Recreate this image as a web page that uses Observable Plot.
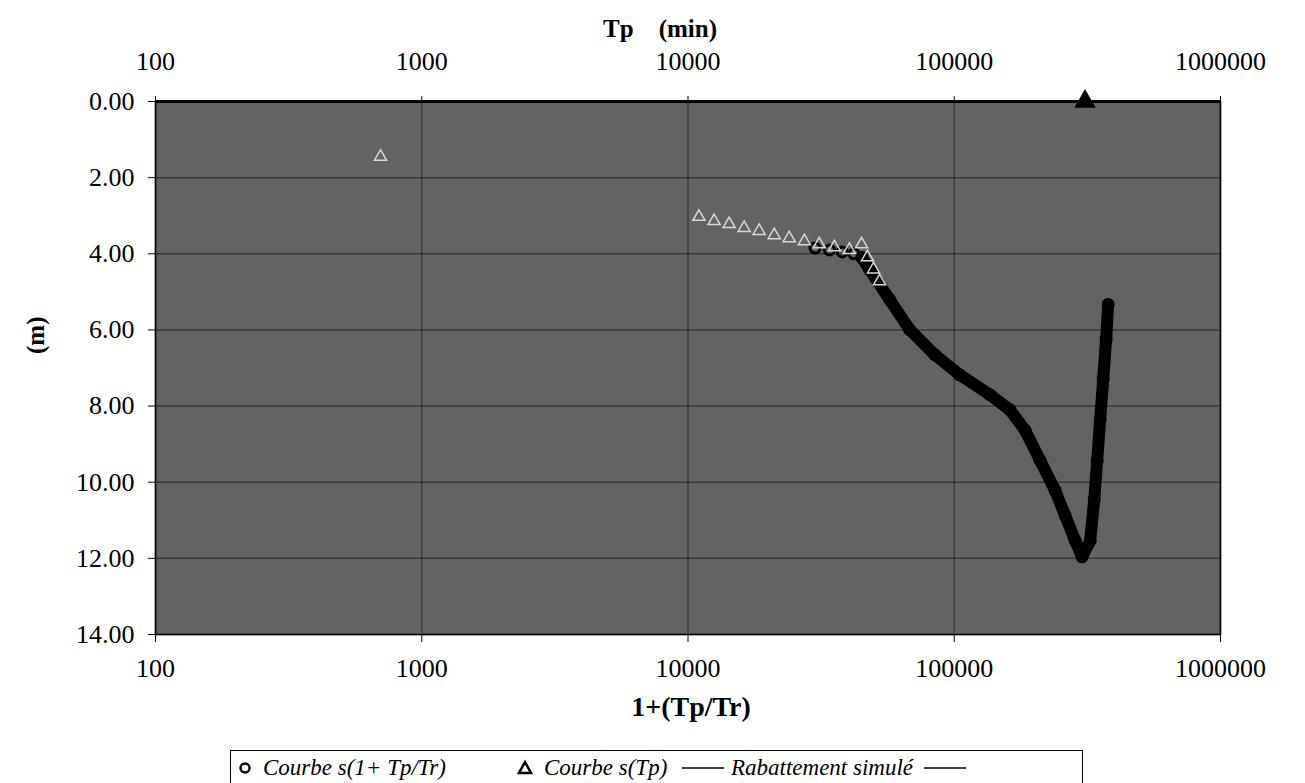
<!DOCTYPE html>
<html>
<head>
<meta charset="utf-8">
<script src="https://cdn.jsdelivr.net/npm/d3@7"></script>
<script src="https://cdn.jsdelivr.net/npm/@observablehq/plot@0.6"></script>
<style>
  html, body { margin: 0; padding: 0; background: #fff; }
  #wrap { position: relative; width: 1305px; height: 783px; overflow: hidden; }
  #legend { position: absolute; left: 230px; top: 750px; width: 853px; height: 40px;
    border: 1.5px solid #000; box-sizing: border-box; background: #fff;
    font-family: "Liberation Serif", serif; font-style: italic; font-size: 23px; }
  #legend .it { position: absolute; top: 4px; white-space: nowrap; }
  #legend svg { position: absolute; top: 8px; }
</style>
</head>
<body>
<div id="wrap">
  <div id="chart"></div>
  <div id="legend">
    <svg style="left:6px" width="16" height="18"><circle cx="8" cy="9" r="4.5" fill="none" stroke="#000" stroke-width="2.5"/></svg>
    <span class="it" style="left:32px">Courbe s(1+ Tp/Tr)</span>
    <svg style="left:285px" width="18" height="18"><path d="M9,3 L15,14 L3,14 Z" fill="none" stroke="#000" stroke-width="2.5"/></svg>
    <span class="it" style="left:313px">Courbe s(Tp)</span>
    <svg style="left:450px;top:9px" width="44" height="16"><line x1="1" y1="8" x2="43" y2="8" stroke="#000" stroke-width="1.5"/></svg>
    <span class="it" style="left:500px">Rabattement simulé</span>
    <svg style="left:692px;top:9px" width="44" height="16"><line x1="1" y1="8" x2="43" y2="8" stroke="#000" stroke-width="1.5"/></svg>
  </div>
</div>
<script>
// Axis ticks
const xTicks = [100, 1000, 10000, 100000, 1000000];
const yTicks = [0, 2, 4, 6, 8, 10, 12, 14];

// Courbe s(Tp) (triangles)
const triX = [700, 10990, 12530, 14270, 16250, 18500, 21080, 23990, 27350, 31120, 35480, 40360, 44870, 47200, 49750, 52400];
const triY = [1.45, 3.03, 3.14, 3.22, 3.32, 3.40, 3.51, 3.59, 3.67, 3.75, 3.83, 3.90, 3.75, 4.09, 4.41, 4.72];
// Marker at the surface
const topX = [310000];
const topY = [0];

// Courbe s(1+Tp/Tr) (circles)
const circX = [30000, 34000, 38000, 42000, 45000, 48050, 57150, 67950, 84440, 104900, 136100, 161800, 184300, 209900, 239000, 260700, 284400, 302000, 323900, 335400, 344200, 353200, 362500, 371900, 378600];
const circY = [3.85, 3.90, 3.95, 4.00, 4.10, 4.41, 5.20, 5.99, 6.65, 7.18, 7.70, 8.10, 8.63, 9.42, 10.21, 10.87, 11.53, 11.96, 11.54, 10.47, 9.44, 8.36, 7.30, 6.25, 5.33];

// Rabattement simulé (line)
const simX = [45000, 48050, 57150, 67950, 84440, 104900, 136100, 161800, 184300, 209900, 239000, 260700, 284400, 302000, 323900, 335400, 344200, 353200, 362500, 371900, 378600];
const simY = [4.10, 4.41, 5.20, 5.99, 6.65, 7.18, 7.70, 8.10, 8.63, 9.42, 10.21, 10.87, 11.53, 11.96, 11.54, 10.47, 9.44, 8.36, 7.30, 6.25, 5.33];

const tri = triX.map((x, i) => ({x, y: triY[i]}));
const top0 = topX.map((x, i) => ({x, y: topY[i]}));
const circ = circX.map((x, i) => ({x, y: circY[i]}));
const sim = simX.map((x, i) => ({x, y: simY[i]}));

const tickFont = {fontSize: 26, fontFamily: "Liberation Serif, serif"};

const chart = Plot.plot({
  width: 1305,
  height: 750,
  marginTop: 101,
  marginBottom: 116,
  marginLeft: 155,
  marginRight: 85,
  style: {fontFamily: "Liberation Serif, serif", background: "transparent", color: "#000"},
  x: {type: "log", domain: [100, 1000000]},
  y: {domain: [0, 14], reverse: true},
  marks: [
    Plot.frame({fill: "#636363"}),
    Plot.gridY(yTicks, {stroke: "#1a1a1a", strokeOpacity: 0.6, strokeWidth: 1.5}),
    Plot.gridX(xTicks, {stroke: "#1a1a1a", strokeOpacity: 0.5, strokeWidth: 1.5}),
    Plot.line(sim, {x: "x", y: "y", stroke: "#000", strokeWidth: 12, strokeLinejoin: "round", strokeLinecap: "round"}),
    Plot.dot(circ, {x: "x", y: "y", symbol: "circle", r: 5, stroke: "#000", strokeWidth: 3, fill: "none"}),
    Plot.dot(tri, {x: "x", y: "y", symbol: "triangle", r: 4.5, stroke: "#d8d8d8", strokeWidth: 1.5, fill: "none"}),
    Plot.dot(top0, {x: "x", y: "y", symbol: "triangle", r: 7, stroke: "#000", fill: "#000"}),
    Plot.frame({stroke: "#000", strokeWidth: 1.5}),
    Plot.ruleY([0], {stroke: "#000", strokeWidth: 3}),
    Plot.axisX(xTicks, {anchor: "bottom", tickSize: 8, tickPadding: 16, tickFormat: d => String(d), label: null, ...tickFont, letterSpacing: 1}),
    Plot.axisX(xTicks, {anchor: "top", tickSize: 6, tickPadding: 26, tickFormat: d => String(d), label: null, ...tickFont, letterSpacing: 1}),
    Plot.axisY(yTicks, {anchor: "left", tickSize: 7, tickPadding: 14, tickFormat: d3.format(".2f"), label: null, ...tickFont}),
    Plot.text(["Tp\u00a0\u00a0\u00a0\u00a0(min)"], {frameAnchor: "top", dx: -28, dy: -82, fontSize: 25, fontWeight: "bold", fontFamily: "Liberation Serif, serif"}),
    Plot.text(["1+(Tp/Tr)"], {frameAnchor: "bottom", dx: 3, dy: 81, fontSize: 28, fontWeight: "bold", fontFamily: "Liberation Serif, serif"}),
    Plot.text(["(m)"], {frameAnchor: "left", dx: -120, dy: -14, rotate: -90, fontSize: 25, fontWeight: "bold", fontFamily: "Liberation Serif, serif"})
  ]
});
document.getElementById("chart").appendChild(chart);
</script>
</body>
</html>
